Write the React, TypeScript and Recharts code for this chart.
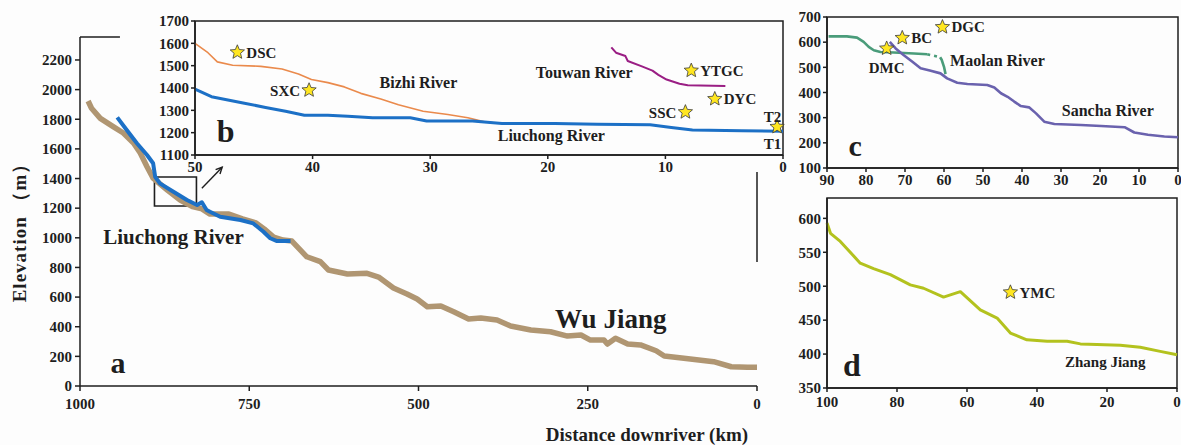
import React from "react"
import { ComposedChart, Line, XAxis, YAxis, ReferenceArea, ReferenceLine, ReferenceDot } from "recharts"

// [distance km, elevation m]
const wuJiang: [number, number][] = [
  [988, 1923], [983, 1874], [970, 1806], [951, 1750], [936, 1707], [921, 1640], [911, 1572],
  [901, 1480], [892, 1403], [871, 1322], [852, 1255], [834, 1210], [820, 1195], [808, 1160],
  [780, 1160], [760, 1128], [740, 1100], [728, 1060], [714, 1005], [700, 985], [687, 978],
  [665, 872], [645, 839], [633, 783], [605, 756], [576, 760], [559, 735], [537, 661], [517, 621],
  [502, 587], [487, 535], [467, 540], [448, 501], [426, 452], [408, 459], [384, 445], [364, 405],
  [334, 378], [305, 366], [280, 337], [260, 344], [246, 310], [226, 310], [221, 283], [209, 322],
  [191, 283], [172, 277], [149, 238], [137, 202], [108, 187], [64, 164], [38, 130], [14, 126], [0, 126],
]
const liuchongA: [number, number][] = [
  [945, 1813], [931, 1727], [916, 1638], [901, 1559], [892, 1503], [889, 1412], [882, 1367],
  [862, 1311], [842, 1255], [827, 1221], [820, 1240], [813, 1188], [808, 1176], [793, 1142],
  [763, 1120], [744, 1097], [729, 1041], [719, 997], [709, 978], [689, 978],
]
const liuchongB: [number, number][] = [
  [50, 1395], [48.6, 1361], [45.8, 1332], [44, 1313], [42.3, 1296], [40.7, 1278], [38.7, 1278],
  [37, 1274], [34.9, 1267], [31.7, 1267], [30.3, 1252], [26.4, 1252], [23.9, 1241], [19.4, 1241],
  [15.8, 1238], [11.3, 1235], [9.5, 1223], [7.7, 1212], [3.5, 1209], [0, 1206],
]
const bizhi: [number, number][] = [
  [50, 1600], [48.9, 1558], [48.1, 1517], [46.8, 1502], [44.4, 1497], [42.6, 1485], [41.2, 1463],
  [40.1, 1438], [38.7, 1424], [37.3, 1405], [35.9, 1376], [34.2, 1351], [32.7, 1325], [30.6, 1296],
  [28.5, 1281], [26.8, 1267], [25.4, 1249], [24.6, 1244],
]
const touwan: [number, number][] = [
  [14.6, 1582], [14.2, 1558], [13.4, 1543], [13.2, 1521], [12.0, 1497], [11.1, 1478], [10.6, 1459],
  [9.9, 1438], [8.8, 1419], [8.1, 1412], [4.9, 1409],
]
const maolan: [number, number][] = [
  [89.6, 623], [84.9, 623], [82.3, 618], [80.6, 601], [79.3, 581], [78, 568], [76.3, 561],
  [72.9, 559], [67.7, 555], [64.3, 552],
]
const maolanGap: [number, number][] = [[64.3, 552], [61, 540]]
const maolanDrop: [number, number][] = [[61, 540], [60.6, 530], [60, 502], [59.6, 473]]
const sancha: [number, number][] = [
  [73.9, 601], [72.4, 575], [70.3, 548], [68.1, 522], [66, 496], [63.4, 486], [60.9, 476],
  [59.2, 456], [56.6, 439], [54, 434], [48.9, 430], [47.1, 420], [45.4, 397], [43.7, 383],
  [42, 364], [40.3, 346], [38.2, 341], [36.4, 317], [34.3, 284], [31.7, 275], [24.9, 271],
  [19.7, 267], [13.7, 262], [11.2, 241], [7.7, 232], [3.5, 225], [0, 222],
]
const zhang: [number, number][] = [
  [100, 593], [99, 578], [96.2, 566], [90.5, 534], [86.7, 526], [81.9, 517], [76.2, 502],
  [72.4, 497], [66.7, 484], [61.9, 492], [56.2, 465], [51.4, 453], [47.6, 431], [42.9, 421],
  [37.1, 419], [31.4, 419], [27.6, 415], [22.9, 414], [16.2, 413], [10.5, 410], [4.8, 404], [0, 399],
]

const bStars = [
  { name: "DSC", km: 46.4, elev: 1560 },
  { name: "SXC", km: 40.3, elev: 1390 },
  { name: "YTGC", km: 7.8, elev: 1478 },
  { name: "DYC", km: 5.8, elev: 1351 },
  { name: "SSC", km: 8.3, elev: 1292 },
  { name: "", km: 0.5, elev: 1226 },
]
const cStars = [
  { name: "DMC", km: 74.7, elev: 575 },
  { name: "BC", km: 70.7, elev: 617 },
  { name: "DGC", km: 60.4, elev: 660 },
]
const dStars = [{ name: "YMC", km: 47.6, elev: 491 }]

const aTexts = [
  { text: "Liuchong River", km: 862, elev: 1012, size: 21 },
  { text: "Wu Jiang", km: 216, elev: 459, size: 27 },
  { text: "a", km: 944, elev: 162, size: 30 },
]
const bTexts = [
  { text: "Bizhi River", km: 31, elev: 1427, size: 16 },
  { text: "Touwan River", km: 16.9, elev: 1470, size: 16 },
  { text: "Liuchong River", km: 19.7, elev: 1187, size: 16 },
  { text: "T2", km: 0.9, elev: 1274, size: 15 },
  { text: "T1", km: 0.9, elev: 1151, size: 15 },
  { text: "b", km: 47.4, elev: 1210, size: 32 },
]
const cTexts = [
  { text: "Maolan River", km: 46.3, elev: 528, size: 16 },
  { text: "Sancha River", km: 18, elev: 328, size: 16 },
  { text: "c", km: 82.8, elev: 190, size: 30 },
]
const dTexts = [
  { text: "Zhang Jiang", km: 20.5, elev: 389, size: 15 },
  { text: "d", km: 92.9, elev: 384, size: 32 },
]

const aXTicks = [1000, 750, 500, 250, 0]
const aYTicks = [0, 200, 400, 600, 800, 1000, 1200, 1400, 1600, 1800, 2000, 2200]
const bXTicks = [50, 40, 30, 20, 10, 0]
const bYTicks = [1100, 1200, 1300, 1400, 1500, 1600, 1700]
const cXTicks = [90, 80, 70, 60, 50, 40, 30, 20, 10, 0]
const cYTicks = [100, 200, 300, 400, 500, 600, 700]
const dXTicks = [100, 80, 60, 40, 20, 0]
const dYTicks = [350, 400, 450, 500, 550, 600]

const labelSide: Record<string, string> = {
  DSC: "right", SXC: "left", YTGC: "right", DYC: "right", SSC: "left",
  DMC: "below", BC: "right", DGC: "right", YMC: "right",
}

const FONT = '"Liberation Serif", "DejaVu Serif", serif'
const INK = "#1e1e1e"
const tick = { fontFamily: FONT, fontSize: 15, fontWeight: 700, fill: INK }

const pts = (arr: [number, number][]) => arr.map(([km, elev]) => ({ km, elev }))

function starPoints(cx: number, cy: number, R: number) {
  const out: string[] = []
  for (let i = 0; i < 10; i++) {
    const a = (-90 + i * 36) * (Math.PI / 180)
    const r = i % 2 === 0 ? R : R * 0.45
    out.push(`${cx + r * Math.cos(a)},${cy + r * Math.sin(a)}`)
  }
  return out.join(" ")
}

function StarMark({ cx, cy, text }: any) {
  const side = labelSide[text] || "right"
  let tx = cx + 9
  let ty = cy
  let anchor = "start"
  if (side === "left") { tx = cx - 9; anchor = "end" }
  if (side === "below") { tx = cx; ty = cy + 19; anchor = "middle" }
  return (
    <g>
      <polygon points={starPoints(cx, cy, 7.5)} fill="#FFE620" stroke="#3a3a3a" strokeWidth={0.8} />
      {text ? (
        <text x={tx} y={ty} dy="0.36em" textAnchor={anchor} fontFamily={FONT} fontWeight={700} fontSize={15} fill={INK}>
          {text}
        </text>
      ) : null}
    </g>
  )
}

function TextMark({ cx, cy, text, size }: any) {
  return (
    <text x={cx} y={cy} dy="0.36em" textAnchor="middle" fontFamily={FONT} fontWeight={700} fontSize={size} fill={INK}>
      {text}
    </text>
  )
}

function Arrow({ x1, y1, x2, y2 }: any) {
  const ang = Math.atan2(y2 - y1, x2 - x1)
  const h = 7
  const p1 = `${x2 - h * Math.cos(ang - 0.45)},${y2 - h * Math.sin(ang - 0.45)}`
  const p2 = `${x2 - h * Math.cos(ang + 0.45)},${y2 - h * Math.sin(ang + 0.45)}`
  return (
    <g stroke={INK} strokeWidth={1.4} fill="none">
      <line x1={x1} y1={y1} x2={x2} y2={y2} />
      <polyline points={`${p1} ${x2},${y2} ${p2}`} />
    </g>
  )
}

function river(arr: [number, number][], color: string, width: number, dash?: string) {
  return (
    <Line
      data={pts(arr)}
      dataKey="elev"
      type="linear"
      stroke={color}
      strokeWidth={width}
      strokeDasharray={dash}
      strokeLinejoin="round"
      dot={false}
      isAnimationActive={false}
    />
  )
}

function stars(list: { name: string; km: number; elev: number }[]) {
  return list.map((s, i) => (
    <ReferenceDot key={"s" + i} x={s.km} y={s.elev} r={7} ifOverflow="visible" shape={(p: any) => <StarMark {...p} text={s.name} />} />
  ))
}

function texts(list: { text: string; km: number; elev: number; size: number }[]) {
  return list.map((t, i) => (
    <ReferenceDot key={"t" + i} x={t.km} y={t.elev} r={1} ifOverflow="visible" shape={(p: any) => <TextMark {...p} text={t.text} size={t.size} />} />
  ))
}

const frame = (x1: number, x2: number, y1: number, y2: number) => (
  <ReferenceArea x1={x1} x2={x2} y1={y1} y2={y2} fill="none" fillOpacity={0} stroke={INK} strokeWidth={1.5} ifOverflow="visible" />
)

export default function App() {
  return (
    <div style={{ position: "absolute", left: 0, top: 0, width: 1181, height: 445, background: "#fdfdfd", overflow: "hidden" }}>
      {/* panel a */}
      <div style={{ position: "absolute", left: 0, top: 0 }}>
        <ComposedChart width={800} height={445} margin={{ top: 37, right: 43, left: 0, bottom: 29 }}>
          <XAxis type="number" dataKey="km" domain={[0, 1000]} reversed ticks={aXTicks} interval={0} height={30}
            tickSize={5} tickMargin={7} stroke={INK} strokeWidth={1.5} tick={tick} />
          <YAxis type="number" domain={[0, 2355]} ticks={aYTicks} interval={0} width={80}
            tickSize={5} tickMargin={3} stroke={INK} strokeWidth={1.5} tick={tick} />
          <ReferenceLine segment={[{ x: 1000, y: 2355 }, { x: 941, y: 2355 }]} stroke={INK} strokeWidth={1.5} ifOverflow="visible" />
          <ReferenceLine segment={[{ x: 0, y: 1444 }, { x: 0, y: 837 }]} stroke={INK} strokeWidth={1.5} ifOverflow="visible" />
          {river(wuJiang, "#B09672", 5.5)}
          {river(liuchongA, "#1C70C6", 4)}
          <ReferenceArea x1={890} x2={828} y1={1215} y2={1410} fill="none" fillOpacity={0} stroke={INK} strokeWidth={1.6} />
          <ReferenceLine segment={[{ x: 820, y: 1334 }, { x: 790, y: 1476 }]} shape={(p: any) => <Arrow {...p} />} ifOverflow="visible" />
          {texts(aTexts)}
        </ComposedChart>
      </div>

      {/* panel b inset */}
      <div style={{ position: "absolute", left: 100, top: 0 }}>
        <ComposedChart width={700} height={190} margin={{ top: 21, right: 17, left: 0, bottom: 10 }}>
          <XAxis type="number" dataKey="km" domain={[0, 50]} reversed ticks={bXTicks} interval={0} height={25}
            tickSize={4} tickMargin={2} stroke={INK} strokeWidth={1.5} tick={tick} />
          <YAxis type="number" domain={[1100, 1700]} ticks={bYTicks} interval={0} width={95}
            tickSize={4} tickMargin={2} stroke={INK} strokeWidth={1.5} tick={tick} />
          {frame(50, 0, 1100, 1700)}
          {river(bizhi, "#EA8A4C", 1.6)}
          {river(liuchongB, "#1C70C6", 3)}
          {river(touwan, "#9A1E84", 2)}
          {stars(bStars)}
          {texts(bTexts)}
        </ComposedChart>
      </div>

      {/* panel c */}
      <div style={{ position: "absolute", left: 780, top: 0 }}>
        <ComposedChart width={401} height={200} margin={{ top: 17, right: 3, left: 0, bottom: 7 }}>
          <XAxis type="number" dataKey="km" domain={[0, 90]} reversed ticks={cXTicks} interval={0} height={25}
            tickSize={4} tickMargin={2} stroke={INK} strokeWidth={1.5} tick={tick} />
          <YAxis type="number" domain={[100, 700]} ticks={cYTicks} interval={0} width={47}
            tickSize={4} tickMargin={2} stroke={INK} strokeWidth={1.5} tick={tick} />
          {frame(90, 0, 100, 700)}
          {river(maolan, "#4A9C7A", 2.6)}
          {river(maolanGap, "#4A9C7A", 2.6, "3 4")}
          {river(maolanDrop, "#4A9C7A", 2.6)}
          {river(sancha, "#6A62AE", 2.6)}
          {stars(cStars)}
          {texts(cTexts)}
        </ComposedChart>
      </div>

      {/* panel d */}
      <div style={{ position: "absolute", left: 780, top: 190 }}>
        <ComposedChart width={401} height={255} margin={{ top: 8, right: 4, left: 0, bottom: 32 }}>
          <XAxis type="number" dataKey="km" domain={[0, 100]} reversed ticks={dXTicks} interval={0} height={25}
            tickSize={4} tickMargin={4} stroke={INK} strokeWidth={1.5} tick={tick} />
          <YAxis type="number" domain={[350, 630]} ticks={dYTicks} interval={0} width={47}
            tickSize={4} tickMargin={2} stroke={INK} strokeWidth={1.5} tick={tick} />
          {frame(100, 0, 350, 630)}
          {river(zhang, "#B3C21E", 3)}
          {stars(dStars)}
          {texts(dTexts)}
        </ComposedChart>
      </div>

      {/* axis titles */}
      <svg width={1181} height={445} style={{ position: "absolute", left: 0, top: 0, pointerEvents: "none" }}>
        <text x={0} y={0} transform="translate(26,228) rotate(-90)" textAnchor="middle" fontFamily={FONT}
          fontWeight={700} fontSize={19} letterSpacing={1} fill={INK}>
          Elevation （m）
        </text>
        <text x={647} y={441} textAnchor="middle" fontFamily={FONT} fontWeight={700} fontSize={19} fill={INK}>
          Distance downriver (km)
        </text>
      </svg>
    </div>
  )
}
